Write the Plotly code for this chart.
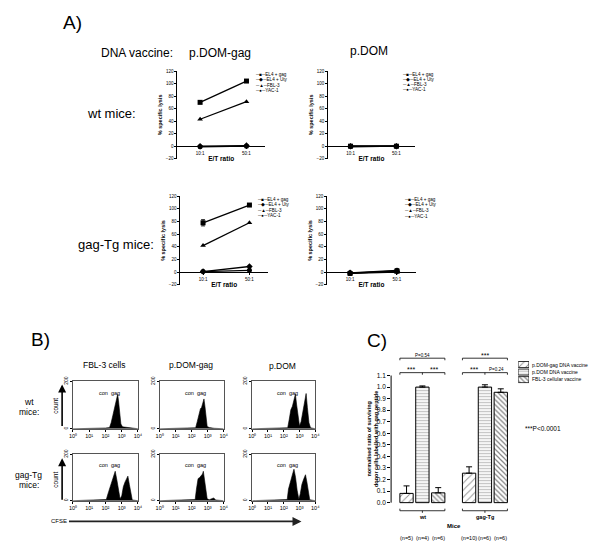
import plotly.graph_objects as go

FONT = "Liberation Sans, Arial, sans-serif"
W, H = 600, 550


def fx(p):
    return p / W


def fy(p):
    return 1 - p / H


# ---------------- Panel A data ----------------
ratios = ["10:1", "50:1"]
targets = ["EL4 + gag", "EL4 + Uty", "FBL-3", "YAC-1"]
symbols = ["square", "diamond", "triangle-up", "circle"]
glyphs = ["■", "◆", "▲", "●"]

# wt mice, p.DOM-gag
wt_domgag_el4gag = [70, 104]
wt_domgag_el4gag_err = [2, 1]
wt_domgag_el4uty = [0, 1]
wt_domgag_fbl3 = [43, 71]
wt_domgag_yac1 = [-1, 0]
# wt mice, p.DOM
wt_dom_el4gag = [0, 0]
wt_dom_el4gag_err = [1, 0]
wt_dom_el4uty = [0, 0]
wt_dom_fbl3 = [-1, 0]
wt_dom_yac1 = [0, 0]
# gag-Tg mice, p.DOM-gag
tg_domgag_el4gag = [78, 106]
tg_domgag_el4gag_err = [5, 1]
tg_domgag_el4uty = [1, 9]
tg_domgag_fbl3 = [42, 78]
tg_domgag_yac1 = [1, 3]
# gag-Tg mice, p.DOM
tg_dom_el4gag = [-2, 2]
tg_dom_el4gag_err = [1, 1]
tg_dom_el4uty = [-1, 1]
tg_dom_fbl3 = [-2, 0]
tg_dom_yac1 = [-1, 3]

lysis_ticks = [-20, 0, 20, 40, 60, 80, 100, 120]

# ---------------- Panel B data (log10 CFSE, counts) ----------------
decade_ticks = [0, 1, 2, 3, 4]
decade_labels = ["10⁰", "10¹", "10²", "10³", "10⁴"]

wt_fbl3_x = [0, 1.0, 1.1, 2.0, 2.25, 2.35, 2.45, 2.55, 2.62, 2.7, 2.75, 2.8, 2.88, 2.95, 3.05, 3.3, 3.5, 4.0]
wt_fbl3_y = [0, 0, 3, 3, 5, 25, 55, 85, 110, 135, 145, 120, 60, 20, 8, 6, 2, 0]

wt_domgag_x = [0, 1.0, 2.0, 2.25, 2.35, 2.45, 2.55, 2.62, 2.68, 2.77, 2.83, 2.9, 2.97, 3.1, 3.4, 4.0]
wt_domgag_y = [0, 2, 2, 4, 30, 60, 85, 90, 105, 126, 95, 40, 10, 5, 2, 0]

wt_dom_x = [0, 1.0, 2.0, 2.25, 2.35, 2.45, 2.55, 2.65, 2.74, 2.82, 2.92, 3.0, 3.1, 3.2, 3.3, 3.42, 3.5, 3.6, 3.7, 4.0]
wt_dom_y = [0, 2, 2, 4, 40, 80, 95, 120, 146, 100, 35, 12, 30, 70, 110, 149, 90, 25, 4, 0]

tg_fbl3_x = [0, 1.0, 1.9, 2.05, 2.2, 2.35, 2.45, 2.55, 2.6, 2.7, 2.8, 2.9, 3.0, 3.1, 3.2, 3.3, 3.38, 3.47, 3.55, 3.65, 4.0]
tg_fbl3_y = [0, 2, 2, 5, 40, 70, 90, 115, 127, 90, 40, 8, 20, 60, 80, 95, 106, 70, 30, 3, 0]

tg_domgag_x = [0, 1.0, 2.0, 2.22, 2.3, 2.4, 2.5, 2.6, 2.68, 2.73, 2.8, 2.88, 2.97, 3.1, 3.25, 3.38, 3.5, 4.0]
tg_domgag_y = [0, 2, 2, 5, 50, 95, 100, 110, 115, 127, 90, 35, 8, 4, 8, 12, 3, 0]

tg_dom_x = [0, 1.0, 2.0, 2.22, 2.3, 2.4, 2.5, 2.58, 2.65, 2.75, 2.85, 2.96, 3.05, 3.15, 3.25, 3.38, 3.47, 3.55, 3.65, 4.0]
tg_dom_y = [0, 2, 2, 5, 50, 80, 100, 120, 136, 100, 45, 6, 30, 70, 90, 112, 80, 35, 4, 0]

# ---------------- Panel C data ----------------
mice_groups = ["wt", "gag-Tg"]
vaccines = ["p.DOM-gag DNA vaccine", "p.DOM DNA vaccine", "FBL-3 cellular vaccine"]
ratio_domgag = [0.08, 0.255]
ratio_domgag_err = [0.065, 0.055]
ratio_dom = [1.0, 1.0]
ratio_dom_err = [0.01, 0.02]
ratio_fbl3 = [0.085, 0.955]
ratio_fbl3_err = [0.045, 0.03]
n_wt = ["(n=5)", "(n=4)", "(n=6)"]
n_tg = ["(n=10)", "(n=6)", "(n=6)"]
ratio_ticks = [0.0, 0.1, 0.2, 0.3, 0.4, 0.5, 0.6, 0.7, 0.8, 0.9, 1.0, 1.1]

fig = go.Figure()
layout = dict(
    width=W, height=H, autosize=False,
    margin=dict(l=0, r=0, t=0, b=0),
    paper_bgcolor="white", plot_bgcolor="white",
    showlegend=False,
    font=dict(family=FONT, color="black"),
    barmode="group", bargap=0.24, bargroupgap=0.16,
)
annotations = []
shapes = []


def ann(text, x, y, size, xanchor="center", yanchor="middle", **kw):
    d = dict(text=text, x=fx(x), y=fy(y), xref="paper", yref="paper",
             showarrow=False, xanchor=xanchor, yanchor=yanchor,
             font=dict(size=size, family=FONT, color="black"))
    d.update(kw)
    annotations.append(d)


# ---------------- Panel A ----------------
A_panels = [
    (1, (176, 265), (67, 156), [wt_domgag_el4gag, wt_domgag_el4uty, wt_domgag_fbl3, wt_domgag_yac1], wt_domgag_el4gag_err, (253, [70.7, 76, 81.3, 86.7])),
    (2, (329, 417), (67, 156), [wt_dom_el4gag, wt_dom_el4uty, wt_dom_fbl3, wt_dom_yac1], wt_dom_el4gag_err, (402, [70.7, 75.5, 80.7, 85.7])),
    (3, (179, 268), (194, 284), [tg_domgag_el4gag, tg_domgag_el4uty, tg_domgag_fbl3, tg_domgag_yac1], tg_domgag_el4gag_err, (255, [197.3, 202.7, 208.3, 213.5])),
    (4, (328, 418), (194, 284), [tg_dom_el4gag, tg_dom_el4uty, tg_dom_fbl3, tg_dom_yac1], tg_dom_el4gag_err, (404, [197.3, 202.7, 208.7, 214.3])),
]
ymin, ymax = -20, 120

for (k, xp, yp, series, err0, leg) in A_panels:
    xname = "xaxis" if k == 1 else f"xaxis{k}"
    yname = "yaxis" if k == 1 else f"yaxis{k}"
    xr = "x" if k == 1 else f"x{k}"
    yr = "y" if k == 1 else f"y{k}"
    yd0, yd1 = fy(yp[1]), fy(yp[0])
    zero_pos = yd0 + (0 - ymin) / (ymax - ymin) * (yd1 - yd0)
    for i, vals in enumerate(series):
        tr = dict(x=ratios, y=vals, mode="lines+markers", xaxis=xr, yaxis=yr,
                  line=dict(color="black", width=1.3),
                  marker=dict(symbol=symbols[i], size=5, color="black"),
                  name=targets[i], cliponaxis=False)
        if i == 0:
            tr["error_y"] = dict(type="data", array=err0, color="black", thickness=0.8, width=2)
        fig.add_trace(go.Scatter(**tr))
    layout[xname] = dict(domain=[fx(xp[0]), fx(xp[1])], anchor="free", position=zero_pos,
                         type="category", categoryarray=ratios, range=[-0.49, 1.4],
                         showline=True, linecolor="black", linewidth=1, showgrid=False, zeroline=False,
                         ticks="outside", ticklen=2, tickwidth=0.8, tickcolor="black",
                         tickfont=dict(size=4.5, family=FONT),
                         title=dict(text="<b>E/T ratio</b>", font=dict(size=6.5, family=FONT), standoff=1))
    layout[yname] = dict(domain=[yd0, yd1], anchor=xr, range=[ymin, ymax], tickvals=lysis_ticks,
                         showline=True, linecolor="black", linewidth=1, showgrid=False, zeroline=False,
                         ticks="outside", ticklen=2, tickwidth=0.8, tickcolor="black",
                         tickfont=dict(size=4.5, family=FONT),
                         title=dict(text="<b>% specific lysis</b>", font=dict(size=5.5, family=FONT), standoff=2))
    lx, lys = leg
    for i, ly in enumerate(lys):
        ann("─" + glyphs[i] + "─" + targets[i], lx, ly, 4.6, xanchor="left")

ann("A)", 70, 18, 19)
ann("DNA vaccine:", 135, 49, 12)
ann("p.DOM-gag", 219, 49, 12)
ann("p.DOM", 371, 47, 12)
ann("wt mice:", 109, 110, 13)
ann("gag-Tg mice:", 114, 243, 13)

# ---------------- Panel B ----------------
B_cols = [(70, 136), (158, 223), (252, 316)]
B_rows = [(382, 430), (456, 503)]
B_hists = [
    [(wt_fbl3_x, wt_fbl3_y), (wt_domgag_x, wt_domgag_y), (wt_dom_x, wt_dom_y)],
    [(tg_fbl3_x, tg_fbl3_y), (tg_domgag_x, tg_domgag_y), (tg_dom_x, tg_dom_y)],
]
k = 5
for r, (yt, yb) in enumerate(B_rows):
    for c, (xl, xrr) in enumerate(B_cols):
        hx, hy = B_hists[r][c]
        xr, yr = f"x{k}", f"y{k}"
        fig.add_trace(go.Scatter(x=hx, y=hy, mode="lines", fill="tozeroy", xaxis=xr, yaxis=yr,
                                 line=dict(color="black", width=0.6), fillcolor="black"))
        layout[f"xaxis{k}"] = dict(domain=[fx(xl), fx(xrr)], anchor=yr, range=[0, 4],
                                   tickvals=decade_ticks, ticktext=decade_labels,
                                   showline=True, mirror=True, linecolor="#555", linewidth=0.8,
                                   showgrid=False, zeroline=False, ticks="outside", ticklen=2,
                                   tickwidth=0.6, tickcolor="black", tickfont=dict(size=5.5, family=FONT))
        layout[f"yaxis{k}"] = dict(domain=[fy(yb), fy(yt)], anchor=xr, range=[0, 200],
                                   tickvals=[0, 200], tickangle=-90,
                                   showline=True, mirror=True, linecolor="#555", linewidth=0.8,
                                   showgrid=False, zeroline=False, ticks="outside", ticklen=2,
                                   tickwidth=0.6, tickcolor="black", tickfont=dict(size=5, family=FONT))
        annotations.append(dict(text="con  gag", x=0.76, y=0.87, xref=f"x{k} domain", yref=f"y{k} domain",
                                showarrow=False, font=dict(size=5.5, family=FONT, color="black")))
        k += 1

ann("B)", 37, 339, 19)
ann("FBL-3 cells", 102, 365, 8.5)
ann("p.DOM-gag", 190, 365, 8.5)
ann("p.DOM", 283, 366, 8.5)
ann("wt", 25, 403, 8.5)
ann("mice:", 25, 413, 8.5)
ann("gag-Tg", 25, 477, 8.5)
ann("mice:", 25, 487, 8.5)
for (ytop, ybot) in [(385, 428), (460, 503)]:
    annotations.append(dict(text="", x=fx(59), y=fy(ytop), xref="paper", yref="paper",
                            showarrow=True, ax=0, ay=ybot - ytop, axref="pixel", ayref="pixel",
                            arrowhead=2, arrowsize=1, arrowwidth=1.6, arrowcolor="black"))
    ann("count", 52, (ytop + ybot) / 2, 6.5, textangle=-90)
annotations.append(dict(text="", x=fx(302), y=fy(524), xref="paper", yref="paper",
                        showarrow=True, ax=-234, ay=0, axref="pixel", ayref="pixel",
                        arrowhead=2, arrowsize=1, arrowwidth=1.8, arrowcolor="#222"))
ann("CFSE", 56, 524, 6)

# ---------------- Panel C ----------------
xr, yr = "x11", "y11"
bar_specs = [
    (vaccines[0], ratio_domgag, ratio_domgag_err, dict(shape="/", size=5, solidity=0.18, fgcolor="#222", bgcolor="white")),
    (vaccines[1], ratio_dom, ratio_dom_err, dict(shape="-", size=3, solidity=0.45, fgcolor="#888", bgcolor="white")),
    (vaccines[2], ratio_fbl3, ratio_fbl3_err, dict(shape="\\", size=3.5, solidity=0.35, fgcolor="#111", bgcolor="white")),
]
for name, vals, err, pat in bar_specs:
    fig.add_trace(go.Bar(x=mice_groups, y=vals, name=name, xaxis=xr, yaxis=yr,
                         marker=dict(color="white", pattern=pat, line=dict(color="black", width=1)),
                         error_y=dict(type="data", array=err, arrayminus=[0, 0], symmetric=False,
                                      color="black", thickness=1, width=3)))
c_ymin, c_ymax = -0.35, 1.32
px_per_unit = (505 - 376) / 1.1
c_top, c_bot = 505 - c_ymax * px_per_unit, 505 - c_ymin * px_per_unit
layout["xaxis11"] = dict(domain=[fx(393), fx(520)], anchor=yr, type="category",
                         categoryarray=mice_groups, range=[-0.5, 1.5], visible=False)
layout["yaxis11"] = dict(domain=[fy(c_bot), fy(c_top)], anchor=xr, range=[c_ymin, c_ymax],
                         tickvals=ratio_ticks, ticktext=[f"{v:.1f}" for v in ratio_ticks],
                         showline=False, showgrid=False, zeroline=False,
                         ticks="outside", ticklen=3, tickwidth=0.8, tickcolor="black",
                         tickfont=dict(size=6.5, family=FONT))
shapes.append(dict(type="line", xref="x11 domain", yref=yr, x0=0, x1=0, y0=0, y1=max(ratio_ticks),
                   line=dict(color="black", width=1)))
# y-axis title centred on the 0.0 - 1.1 span
ann("<b>normalised ratio of surviving<br>donor cells labelled with gag peptide</b>", 373.5, 440.5, 5.5,
    textangle=-90)

slot = (1 - layout["bargap"]) / 3
half = (1 - layout["bargap"]) / 2 - slot * layout["bargroupgap"] / 2


def bracket(x0, x1, y, down=0.018, mid=None):
    shapes.append(dict(type="line", xref=xr, yref=yr, x0=x0, x1=x1, y0=y, y1=y, line=dict(color="black", width=0.8)))
    for xx in (x0, x1):
        shapes.append(dict(type="line", xref=xr, yref=yr, x0=xx, x1=xx, y0=y, y1=y - down, line=dict(color="black", width=0.8)))
    if mid is not None:
        shapes.append(dict(type="line", xref=xr, yref=yr, x0=mid, x1=mid, y0=y, y1=y - down, line=dict(color="black", width=0.8)))


def ctext(text, x, y, size, bold=False):
    annotations.append(dict(text=(f"<b>{text}</b>" if bold else text), x=x, y=y, xref=xr, yref=yr,
                            showarrow=False, font=dict(size=size, family=FONT, color="black")))


sig_low = {0: ("***", "***"), 1: ("***", "P=0.24")}
sig_top = {0: "P=0.54", 1: "***"}
for ci in range(len(mice_groups)):
    left, right = ci - half, ci + half
    bracket(left, right, 1.125, mid=ci)
    t1, t2 = sig_low[ci]
    ctext(t1, (left + ci) / 2, 1.148, 7 if t1 == "***" else 4.5)
    ctext(t2, (right + ci) / 2, 1.148, 7 if t2 == "***" else 4.5)
    bracket(left, right, 1.25)
    ctext(sig_top[ci], ci, 1.273, 7 if sig_top[ci] == "***" else 4.5)
    # group bracket below the bars
    bracket(left, right, -0.07, down=-0.018)
    shapes.append(dict(type="line", xref=xr, yref=yr, x0=ci, x1=ci, y0=-0.07, y1=-0.088, line=dict(color="black", width=0.8)))
    ctext(mice_groups[ci], ci, -0.128, 5.5, bold=True)
    ns = n_wt if ci == 0 else n_tg
    for j, nt in enumerate(ns):
        ctext(nt, ci + (j - 1) * slot, -0.31, 5.5)
ctext("Mice", 0.5, -0.205, 6, bold=True)

# legend swatches for panel C
for name, vals, err, pat in bar_specs:
    fig.add_trace(go.Bar(x=[1], y=[name], orientation="h", xaxis="x12", yaxis="y12", base=0,
                         width=0.8, offset=-0.4,
                         marker=dict(color="white", pattern=pat, line=dict(color="black", width=0.8))))
layout["xaxis12"] = dict(domain=[fx(522), fx(533)], anchor="y12", range=[0, 1], visible=False)
layout["yaxis12"] = dict(domain=[fy(384), fy(361)], anchor="x12", type="category", categoryarray=vaccines,
                         autorange="reversed", visible=False)
for i, name in enumerate(vaccines):
    ann(name, 534.5, [365, 372.5, 380][i], 5, xanchor="left")

ann("C)", 379, 340, 19)
ann("***P<0.0001", 547, 430, 6.5)

layout["annotations"] = annotations
layout["shapes"] = shapes
fig.update_layout(**layout)
fig.write_html("out.html", config={"displayModeBar": False},
               post_script="document.body.style.margin='0';")
